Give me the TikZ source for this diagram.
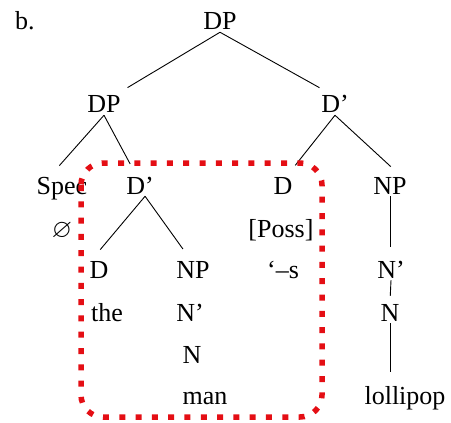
\documentclass[tikz,border=0pt]{standalone}
\usepackage{fontspec}
\usepackage{amssymb}
\setmainfont{Liberation Serif}
\definecolor{boxred}{RGB}{228,14,20}

\begin{document}
\begin{tikzpicture} [x=1pt, y=-1pt, font=\fontsize{26}{30}\selectfont,
	every node/.style={anchor=base, inner sep=2pt},
	branch/.style={line width=0.9pt, shorten >=12pt},
	possbox/.style={draw=boxred, line width=5.5pt, dash pattern=on 6pt off 10.3pt, rounded corners=22pt}]

\useasboundingbox (0,0) rectangle (451,423);

\node[anchor=base west]	(label)	at (13,30)	{b.};

\node	(dp)		at (220,30)	{DP};
\node	(dpl)		at (104,113)	{DP};
\node	(dbr)		at (335,113)	{D’};
\node	(spec)		at (62,194)	{Spec};
\node	(dbm)		at (140,194)	{D’};
\node	(dposs)	at (283,194)	{D};
\node	(npr)		at (390,194)	{NP};
\node	(null)		at (62,237)	{$\varnothing$};
\node	(poss)		at (281,237)	{[Poss]};
\node	(dm)		at (99,278)	{D};
\node	(npm)		at (193,278)	{NP};
\node	(suffix)	at (283,278)	{‘–s};
\node	(nbr)		at (391,278)	{N’};
\node	(the)		at (107,321)	{the};
\node	(nbm)		at (190,321)	{N’};
\node	(nr)		at (390,321)	{N};
\node	(nm)		at (192,363)	{N};
\node	(man)		at (205,404)	{man};
\node	(lollipop)	at (405,404)	{lollipop};

\path[branch]
		(dp.south)	edge		(dpl.39)
				edge		(dbr.115)
		(dpl.south)	edge		(spec.128)
				edge		(dbm.111)
		(dbr.south)	edge		(dposs.66)
				edge		(npr.48)
		(dbm.-65)	edge		(dm.121)
				edge		(npm.106)
		(npr.south)	edge		(npr.south |- nbr.north)
		(nbr.south)	edge	[shorten >=6pt]	(nr.north)
		(nr.south)	edge		(nr.south |- lollipop.north)
;

% dotted frame round the possessor part
\draw[possbox] (81,163) rectangle (322,417);

\end{tikzpicture}
\end{document}
